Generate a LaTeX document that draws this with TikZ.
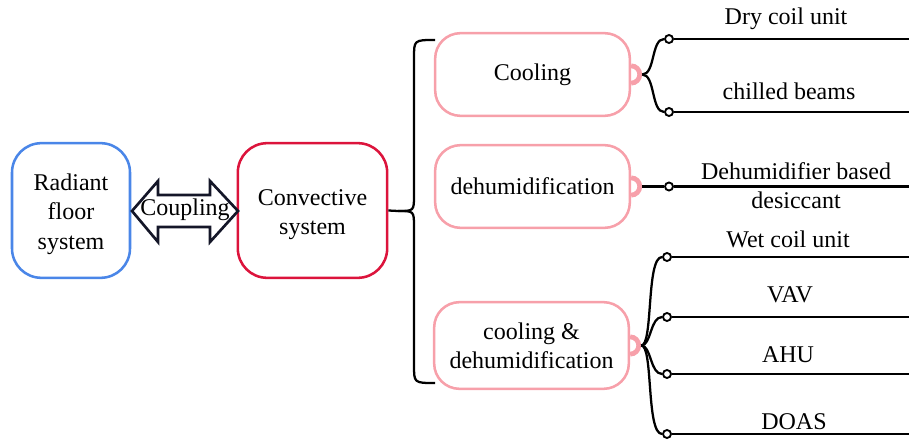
\documentclass[tikz,border=0pt]{standalone}
\usepackage{fontspec}
\setmainfont{Liberation Serif}
\definecolor{bluebox}{RGB}{74,134,232}
\definecolor{redbox}{RGB}{220,20,60}
\definecolor{pinkbox}{RGB}{247,160,170}
\definecolor{arrowcol}{RGB}{20,22,40}
\begin{document}
\begin{tikzpicture}[x=0.75pt,y=-0.75pt,
  txt/.style={font=\fontsize{18}{22}\selectfont, align=center, text=black, inner sep=0pt},
  bigbox/.style={txt, draw, line width=1.9pt, rounded corners=22pt, minimum height=101pt},
  pinkb/.style={txt, draw=pinkbox, line width=1.9pt, rounded corners=19pt, minimum width=146pt},
  knob/.style={draw=pinkbox, line width=3.6pt},
  line/.style={draw=black, line width=1.7pt},
  dot/.style={circle, draw=black, fill=white, line width=1.4pt, inner sep=0pt, minimum size=6pt},
]
\useasboundingbox (0,0) rectangle (909,441);

% main boxes
\node[bigbox, draw=bluebox, minimum width=88.5pt] (rad) at (71,210.5) {\rule{0pt}{6pt}\\[-10pt]Radiant\\floor\\system};
\node[bigbox, draw=redbox, minimum width=112pt] (conv) at (312.5,210.5) {\rule{0pt}{6pt}\\[-10pt]Convective\\system};

% coupling double arrow
\draw[draw=arrowcol, fill=white, line width=2pt, line join=miter]
  (132,211) -- (158,181) -- (158,195) -- (210,195) -- (210,181) -- (238,211)
  -- (210,242) -- (210,227) -- (158,227) -- (158,242) -- cycle;
\node[txt] (coup) at (185,210) {Coupling};

% category boxes
\node[pinkb, minimum height=62pt] (cool) at (532.5,74.5) {Cooling};
\node[pinkb, minimum height=62pt] (dehum) at (532.5,186.5) {dehumidification};
\node[pinkb, minimum height=65pt] (cd) at (531.5,345.5) {cooling \&\\dehumidification};

% big brace
\coordinate (bt) at (435,40);
\coordinate (bb) at (435,383);
\coordinate (bc) at (398,211);
\draw[line] (conv.east) -- (bc) .. controls (414,211) .. (414,195) -- (414,58) .. controls (414,40) .. (bt);
\draw[line] (bc) .. controls (414,211) .. (414,227) -- (414,365) .. controls (414,383) .. (bb);

% knobs
\foreach \b in {cool,dehum,cd}{
  \draw[knob] ([yshift=6.5pt]\b.east) arc[start angle=90, end angle=-90, radius=6.5pt];
  \coordinate (\b s) at ([xshift=8.4pt]\b.east);
}

% dots
\node[dot] (d1) at (669,39) {};
\node[dot] (d2) at (669,112) {};
\node[dot] (d3) at (669,186.5) {};
\node[dot] (d4) at (667,257) {};
\node[dot] (d5) at (667,317) {};
\node[dot] (d6) at (667,374) {};
\node[dot] (d7) at (667,434) {};

% right ends
\coordinate (e1) at (909,39);
\coordinate (e2) at (909,112);
\coordinate (e3) at (909,186.5);
\coordinate (e4) at (909,257);
\coordinate (e5) at (909,317);
\coordinate (e6) at (909,374);
\coordinate (e7) at (909,434);

% branches
\draw[line] (cools) .. controls +(13,0) and +(-13,0) .. (d1.west);
\draw[line] (cools) .. controls +(13,0) and +(-13,0) .. (d2.west);
\draw[line] (dehums) -- (d3.west);
\draw[line] (cds) .. controls +(12,0) and +(-16,0) .. (d4.west);
\draw[line] (cds) .. controls +(10,0) and +(-12,0) .. (d5.west);
\draw[line] (cds) .. controls +(10,0) and +(-12,0) .. (d6.west);
\draw[line] (cds) .. controls +(12,0) and +(-16,0) .. (d7.west);

\foreach \i in {1,...,7}{
  \draw[line] (d\i.east) -- (e\i);
}

% labels
\node[txt] (l1) at (786,19) {Dry coil unit};
\node[txt] (l2) at (789,91) {chilled beams};
\node[txt] (l3) at (796,186) {Dehumidifier based\\desiccant};
\node[txt] (l4) at (788,239) {Wet coil unit};
\node[txt] (l5) at (790,295) {VAV};
\node[txt] (l6) at (788,355) {AHU};
\node[txt] (l7) at (794,422) {DOAS};
\end{tikzpicture}
\end{document}
